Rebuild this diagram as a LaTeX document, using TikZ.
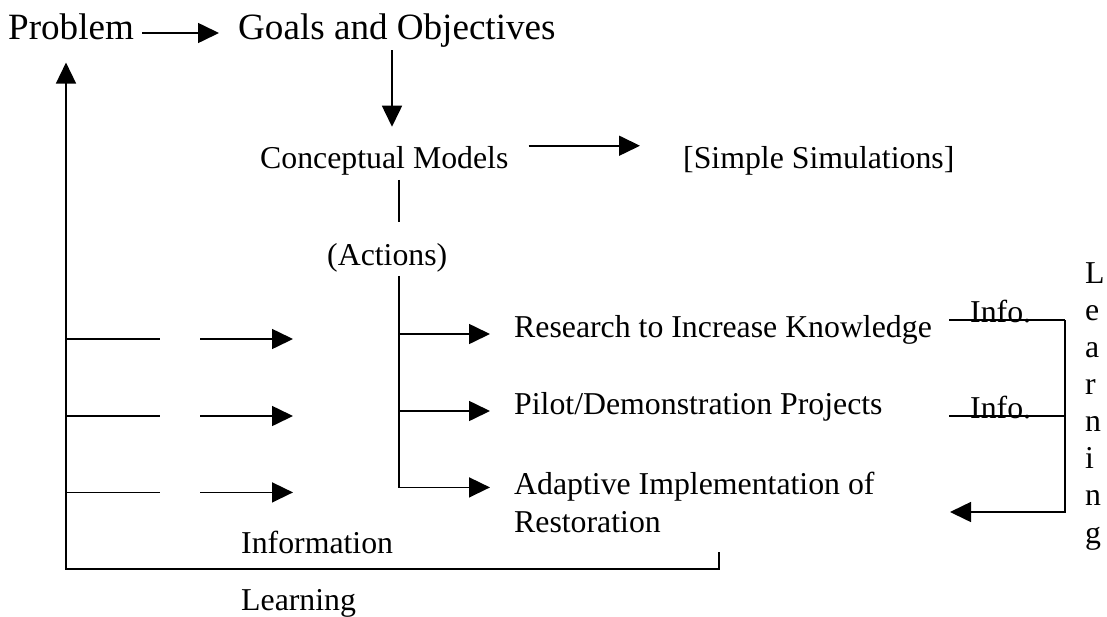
\documentclass[tikz,border=0pt]{standalone}
\usepackage{fontspec}
\setmainfont{Liberation Serif}
\usetikzlibrary{arrows.meta}

\begin{document}
\begin{tikzpicture}[x=1pt,y=-1pt,
        every node/.style={inner sep=0pt,anchor=base west,font=\fontsize{31.8}{38}\selectfont},
        big/.style={font=\fontsize{37.1}{44}\selectfont},
        wire/.style={line width=1.6pt},
        flow/.style={line width=1.6pt,-{Triangle[length=21pt,width=20pt]}}]
            \useasboundingbox (0,0) rectangle (1107,616);
            \node[big] (problem) at (8,39) {Problem};
            \node[big] (goals) at (238,39) {Goals and Objectives};
            \node (concept) at (260,168) {Conceptual Models};
            \node (simul) at (683,168) {[Simple Simulations]};
            \node (actions) at (327,265) {(Actions)};
            \node (research) at (514,337) {Research to Increase Knowledge};
            \node (pilot) at (514,414) {Pilot/Demonstration Projects};
            \node[align=left] (adaptive) at (514,532) {Adaptive Implementation of\\Restoration};
            \node (info) at (241,553) {Information};
            \node (learnh) at (241,610) {Learning};
            \node (infoa) at (970,322) {Info.};
            \node (infob) at (970,418) {Info.};
            \node[align=left,font=\fontsize{31.8}{37.1}\selectfont] (learnv) at (1085,543) {L\\e\\a\\r\\n\\i\\n\\g};
            \coordinate (downx) at (392,0);
            \coordinate (trunk) at (399,0);
            \coordinate (leftx) at (66,0);
            \coordinate (rightx) at (1065,0);
            \coordinate (tick) at (719,552);
            \coordinate (loop) at (66,569);
            \coordinate (back) at (950,512);
            \coordinate (rowa) at ([yshift=3pt]research.base west);
            \coordinate (rowb) at ([yshift=3pt]pilot.base west);
            \coordinate (rowc) at ([yshift=-16pt]adaptive.north west);
            \coordinate (linea) at ([yshift=2pt]infoa.base west);
            \coordinate (lineb) at ([yshift=2pt]infob.base west);
            \draw[flow] ([shift={(8,-6)}]problem.base east) -- ([shift={(-19,-6)}]goals.base west);
            \draw[flow,shorten <=3pt,shorten >=19pt] (goals.south -| downx) -- (concept.north -| downx);
            \draw[flow] ([xshift=20pt]concept.north east) -- ([xshift=-43pt]simul.north west);
            \draw[wire,shorten <=5pt,shorten >=21pt] (concept.south -| trunk) -- (actions.north -| trunk);
            \draw[flow] (actions.south -| trunk) ++(0,4) |- ([xshift=-24pt]rowc);
            \draw[flow] (trunk |- rowa) -- ([xshift=-24pt]rowa);
            \draw[flow] (trunk |- rowb) -- ([xshift=-24pt]rowb);
            \foreach \r in {rowa,rowb,rowc}{
                \draw[wire] (leftx |- \r) ++(0,5) -- ++(94,0);
                \draw[flow] (leftx |- \r) ++(134,5) -- ++(93,0);
            }
            \draw[flow,shorten >=23pt] (tick) |- (loop) -- (problem.south -| leftx);
            \draw[wire] ([xshift=-21pt]linea) -- (rightx |- linea);
            \draw[wire] ([xshift=-21pt]lineb) -- (rightx |- lineb);
            \draw[flow] (rightx |- linea) |- (back);
\end{tikzpicture}
\end{document}
